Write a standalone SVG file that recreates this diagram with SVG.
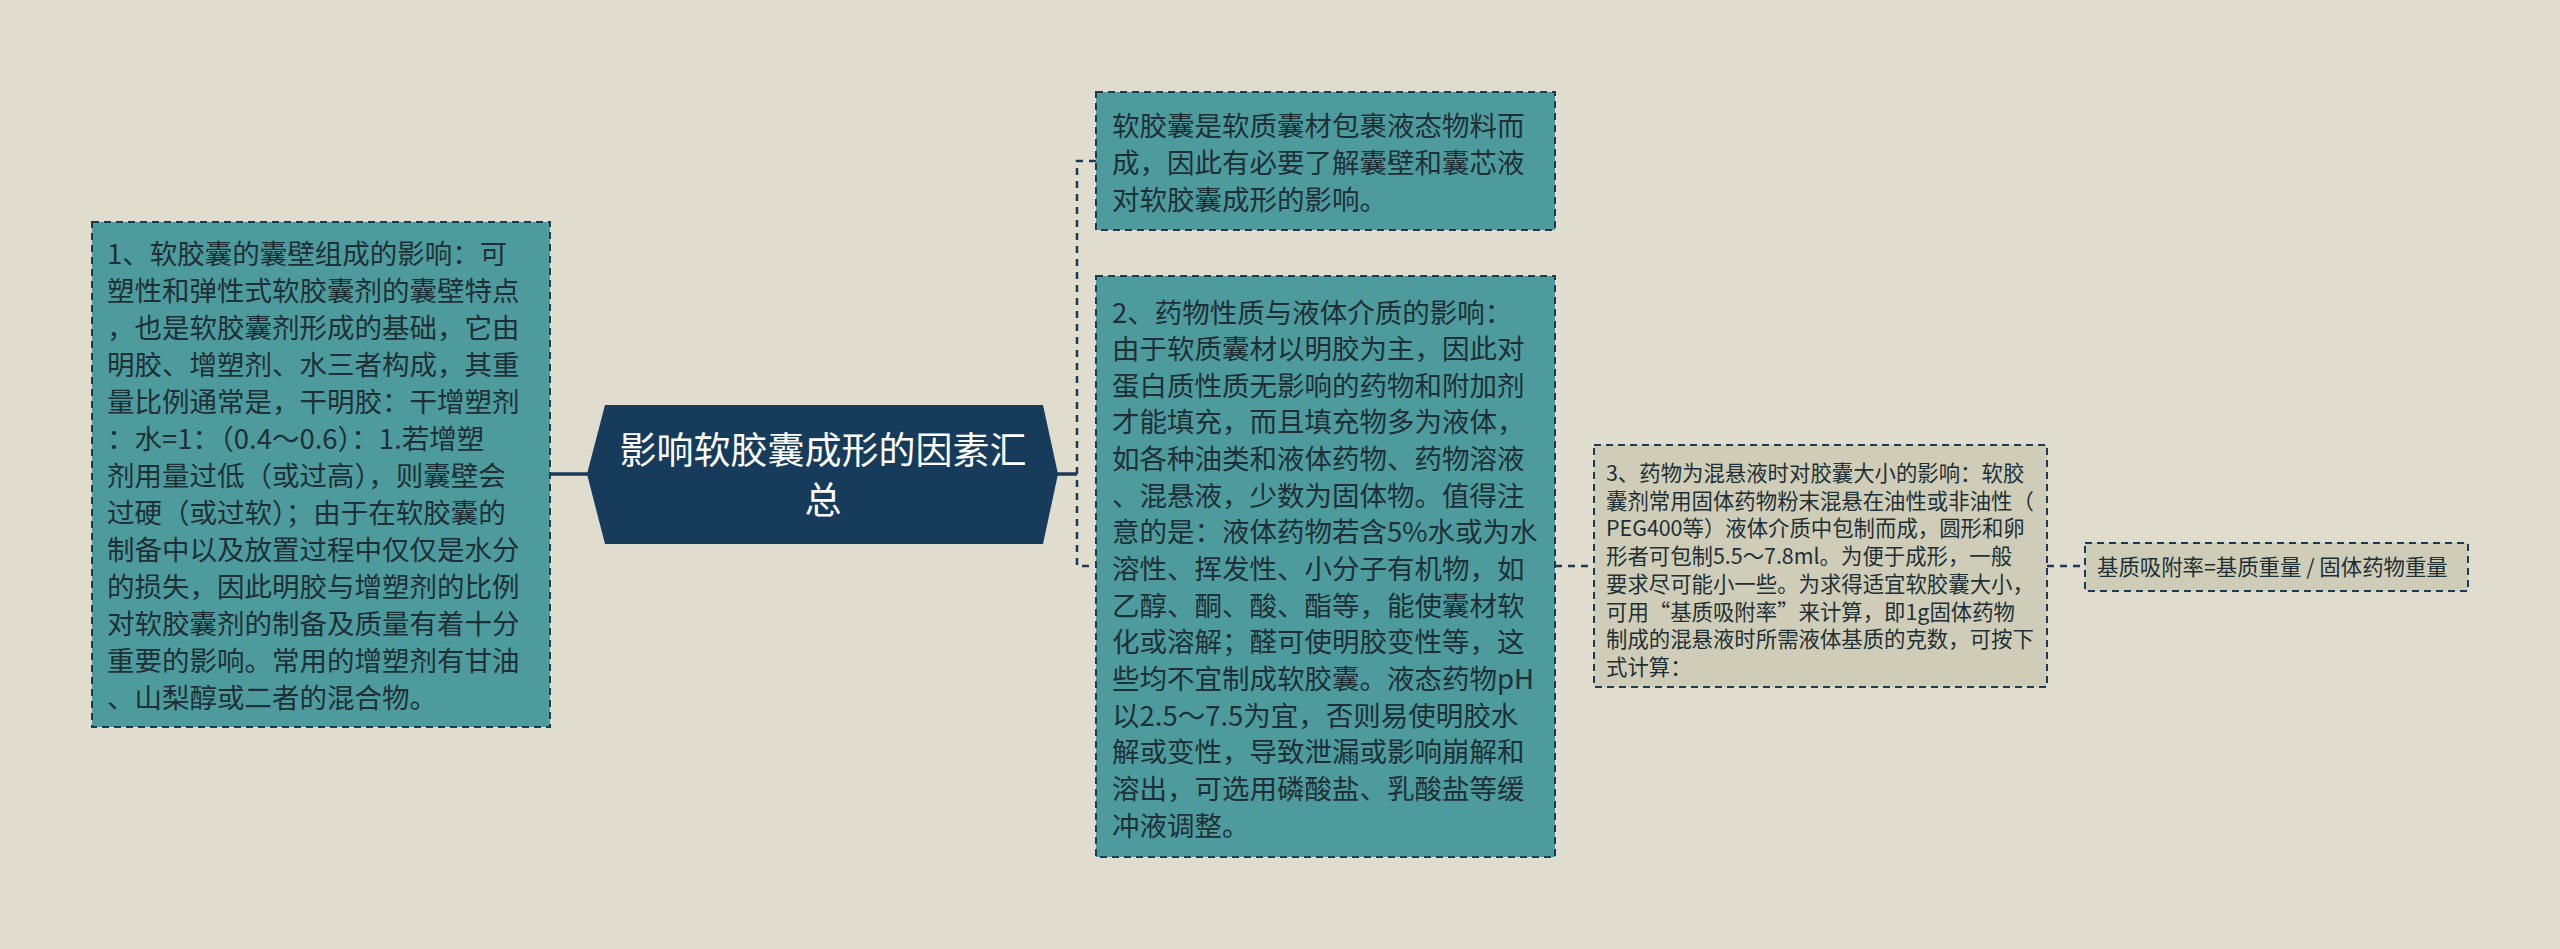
<svg xmlns="http://www.w3.org/2000/svg" width="2560" height="949" viewBox="0 0 2560 949">
<style>
.bg{fill:#e0ddcf}
.teal{fill:#4d9b9d;stroke:#1d3a52;stroke-width:2;stroke-dasharray:7 5}
.sand{fill:#cfcdb7;stroke:#1d3a52;stroke-width:2;stroke-dasharray:7 5}
.t{font-family:"Noto Sans CJK SC","Noto Sans",sans-serif;fill:#1e3035}
.big{font-size:27.5px}
.sm{font-size:21.4px}
.title{font-family:"Noto Sans CJK SC","Noto Sans",sans-serif;font-size:37px;fill:#ffffff;text-anchor:middle}
.solid{fill:none;stroke:#1b3a55;stroke-width:3.5}
.dash{fill:none;stroke:#1b3a55;stroke-width:2.5;stroke-dasharray:7 6}
</style>
<rect class="bg" x="0" y="0" width="2560" height="949"/>
<g id="connectors">
<path class="solid" d="M551 474 H588"/>
<path class="solid" d="M1057 474 H1077"/>
<path class="dash" d="M1096 161 H1077 V566 H1096"/>
<path class="dash" d="M1555 566 H1594"/>
<path class="dash" d="M2047 566 H2085"/>
</g>
<g id="root">
<polygon points="587,474 605,405 1043,405 1058,474 1043,544 605,544" fill="#173c5b"/>
<text class="title"><tspan x="823" y="464">影响软胶囊成形的因素汇</tspan><tspan x="823" y="514">总</tspan></text>
</g>
<g id="node-left">
<rect class="teal" x="92" y="222" width="458" height="505"/>
<text class="t big">
<tspan x="107" y="263.5">1、软胶囊的囊壁组成的影响：可</tspan>
<tspan x="107" y="300.5">塑性和弹性式软胶囊剂的囊壁特点</tspan>
<tspan x="107" y="337.5">，也是软胶囊剂形成的基础，它由</tspan>
<tspan x="107" y="374.5">明胶、增塑剂、水三者构成，其重</tspan>
<tspan x="107" y="411.5">量比例通常是，干明胶：干增塑剂</tspan>
<tspan x="107" y="448.5">：水=1：（0.4～0.6）：1.若增塑</tspan>
<tspan x="107" y="485.5">剂用量过低（或过高），则囊壁会</tspan>
<tspan x="107" y="522.5">过硬（或过软）；由于在软胶囊的</tspan>
<tspan x="107" y="559.5">制备中以及放置过程中仅仅是水分</tspan>
<tspan x="107" y="596.5">的损失，因此明胶与增塑剂的比例</tspan>
<tspan x="107" y="633.5">对软胶囊剂的制备及质量有着十分</tspan>
<tspan x="107" y="670.5">重要的影响。常用的增塑剂有甘油</tspan>
<tspan x="107" y="707.5">、山梨醇或二者的混合物。</tspan>
</text>
</g>
<g id="node-intro">
<rect class="teal" x="1096" y="92" width="459" height="138"/>
<text class="t big">
<tspan x="1112" y="135.5">软胶囊是软质囊材包裹液态物料而</tspan>
<tspan x="1112" y="172.5">成，因此有必要了解囊壁和囊芯液</tspan>
<tspan x="1112" y="209.5">对软胶囊成形的影响。</tspan>
</text>
</g>
<g id="node-drug">
<rect class="teal" x="1096" y="276" width="459" height="581"/>
<text class="t big">
<tspan x="1112" y="322.5">2、药物性质与液体介质的影响：</tspan>
<tspan x="1112" y="359.15">由于软质囊材以明胶为主，因此对</tspan>
<tspan x="1112" y="395.8">蛋白质性质无影响的药物和附加剂</tspan>
<tspan x="1112" y="432.45">才能填充，而且填充物多为液体，</tspan>
<tspan x="1112" y="469.1">如各种油类和液体药物、药物溶液</tspan>
<tspan x="1112" y="505.75">、混悬液，少数为固体物。值得注</tspan>
<tspan x="1112" y="542.4">意的是：液体药物若含5%水或为水</tspan>
<tspan x="1112" y="579.05">溶性、挥发性、小分子有机物，如</tspan>
<tspan x="1112" y="615.7">乙醇、酮、酸、酯等，能使囊材软</tspan>
<tspan x="1112" y="652.35">化或溶解；醛可使明胶变性等，这</tspan>
<tspan x="1112" y="689">些均不宜制成软胶囊。液态药物pH</tspan>
<tspan x="1112" y="725.65">以2.5～7.5为宜，否则易使明胶水</tspan>
<tspan x="1112" y="762.3">解或变性，导致泄漏或影响崩解和</tspan>
<tspan x="1112" y="798.95">溶出，可选用磷酸盐、乳酸盐等缓</tspan>
<tspan x="1112" y="835.6">冲液调整。</tspan>
</text>
</g>
<g id="node-suspension">
<rect class="sand" x="1594" y="445" width="453" height="242"/>
<text class="t sm">
<tspan x="1606" y="481">3、药物为混悬液时对胶囊大小的影响：软胶</tspan>
<tspan x="1606" y="508.7">囊剂常用固体药物粉末混悬在油性或非油性（</tspan>
<tspan x="1606" y="536.4">PEG400等）液体介质中包制而成，圆形和卵</tspan>
<tspan x="1606" y="564.1">形者可包制5.5～7.8ml。为便于成形，一般</tspan>
<tspan x="1606" y="591.8">要求尽可能小一些。为求得适宜软胶囊大小，</tspan>
<tspan x="1606" y="619.5">可用“基质吸附率”来计算，即1g固体药物</tspan>
<tspan x="1606" y="647.2">制成的混悬液时所需液体基质的克数，可按下</tspan>
<tspan x="1606" y="674.9">式计算：</tspan>
</text>
</g>
<g id="node-formula">
<rect class="sand" x="2085" y="543" width="383" height="48"/>
<text class="t sm" x="2097" y="575">基质吸附率=基质重量 / 固体药物重量</text>
</g>
</svg>
